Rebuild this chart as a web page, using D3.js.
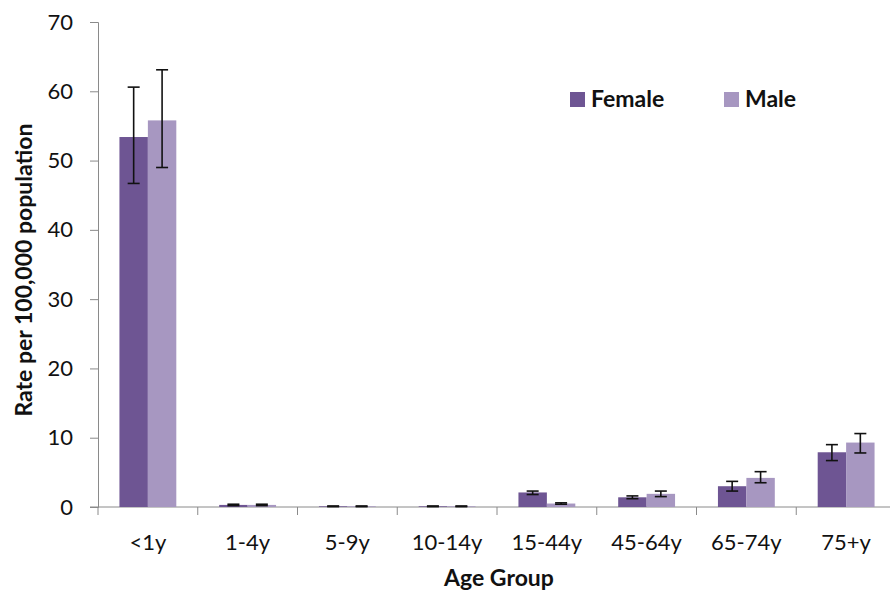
<!DOCTYPE html>
<html>
<head>
<meta charset="utf-8">
<script src="https://cdn.jsdelivr.net/npm/d3@7"></script>
<style>
  body { margin: 0; background: #fff; }
  text { font-family: Lato, "Open Sans", sans-serif; fill: #111; }
</style>
</head>
<body>
<div id="chart"></div>
<script>
var ageGroups = ["<1y", "1-4y", "5-9y", "10-14y", "15-44y", "45-64y", "65-74y", "75+y"];
var femaleRate = [53.4, 0.3, 0.1, 0.1, 2.1, 1.4, 3.0, 7.9];
var femaleLow  = [46.7, 0.2, 0.05, 0.05, 1.8, 1.2, 2.3, 6.7];
var femaleHigh = [60.6, 0.4, 0.15, 0.15, 2.3, 1.6, 3.7, 9.0];
var maleRate   = [55.8, 0.3, 0.1, 0.1, 0.5, 1.9, 4.2, 9.3];
var maleLow    = [49.0, 0.2, 0.05, 0.05, 0.4, 1.5, 3.5, 7.8];
var maleHigh   = [63.1, 0.4, 0.15, 0.15, 0.6, 2.3, 5.1, 10.6];
var yTicks = [0, 10, 20, 30, 40, 50, 60, 70];

const margin = ({ top: 22, right: -6, bottom: 89, left: 98 });
const width = 890, height = 596;
const innerW = width - margin.left - margin.right;
const innerH = height - margin.top - margin.bottom;

var svg = d3.select("#chart").append("svg")
    .attr("width", width)
    .attr("height", height);

var g = svg.append("g")
    .attr("transform", `translate(${margin.left}, ${margin.top})`);

var x = d3.scaleBand()
    .domain(ageGroups)
    .range([0, innerW])
    .paddingInner(0.43)
    .paddingOuter(0.215);

var sub = d3.scaleBand()
    .domain(["Female", "Male"])
    .range([0, x.bandwidth()]);

var y = d3.scaleLinear()
    .domain([0, 70])
    .range([innerH, 0]);

var colors = { Female: "#6e5593", Male: "#a797c1" };

var series = [
    { name: "Female", rate: femaleRate, low: femaleLow, high: femaleHigh },
    { name: "Male", rate: maleRate, low: maleLow, high: maleHigh }
];

// y axis
var yAxis = g.append("g")
    .call(d3.axisLeft(y).tickValues(yTicks).tickSize(8).tickPadding(17));
yAxis.select(".domain").attr("stroke", "#8a8a8a");
yAxis.selectAll(".tick line").attr("stroke", "#8a8a8a");
yAxis.selectAll("text").style("font-size", "22px").attr("fill", "#111");

// x axis: ticks at the category boundaries
var step = x.step();
var xAxis = g.append("g").attr("transform", `translate(0, ${innerH})`);
xAxis.append("line")
    .attr("x1", -8).attr("x2", innerW)
    .attr("stroke", "#8a8a8a");
xAxis.selectAll("line.tk")
    .data(d3.range(ageGroups.length + 1))
    .enter().append("line")
    .classed("tk", true)
    .attr("x1", d => d * step).attr("x2", d => d * step)
    .attr("y1", 0).attr("y2", 8)
    .attr("stroke", "#8a8a8a");
xAxis.selectAll("text")
    .data(ageGroups)
    .enter().append("text")
    .attr("x", d => x(d) + x.bandwidth() / 2)
    .attr("y", 43)
    .attr("text-anchor", "middle")
    .style("font-size", "22px")
    .text(d => d);

// bars
series.forEach(function(s) {
    var sg = g.append("g").classed(s.name.toLowerCase(), true);
    sg.selectAll("rect")
        .data(ageGroups)
        .enter().append("rect")
        .attr("x", d => x(d) + sub(s.name))
        .attr("y", (d, i) => y(s.rate[i]))
        .attr("width", sub.bandwidth())
        .attr("height", (d, i) => y(0) - y(s.rate[i]))
        .attr("fill", colors[s.name]);

    var eg = sg.selectAll("g.err")
        .data(ageGroups)
        .enter().append("g")
        .classed("err", true)
        .attr("transform", d => `translate(${x(d) + sub(s.name) + sub.bandwidth() / 2}, 0)`)
        .attr("stroke", "#111")
        .attr("stroke-width", 1.6);
    eg.append("line")
        .attr("y1", (d, i) => y(s.low[i])).attr("y2", (d, i) => y(s.high[i]));
    eg.append("line")
        .attr("x1", -6).attr("x2", 6)
        .attr("y1", (d, i) => y(s.high[i])).attr("y2", (d, i) => y(s.high[i]));
    eg.append("line")
        .attr("x1", -6).attr("x2", 6)
        .attr("y1", (d, i) => y(s.low[i])).attr("y2", (d, i) => y(s.low[i]));
});

// axis titles
svg.append("text")
    .attr("x", 499).attr("y", 586)
    .attr("text-anchor", "middle")
    .style("font-size", "23px").style("font-weight", "bold")
    .text("Age Group");

svg.append("text")
    .attr("transform", "translate(32, 270) rotate(-90)")
    .attr("text-anchor", "middle")
    .style("font-size", "23px").style("font-weight", "bold")
    .text("Rate per 100,000 population");

// legend
var legend = svg.append("g").attr("transform", "translate(570, 92)");
var li = legend.selectAll("g")
    .data(series)
    .enter().append("g")
    .attr("transform", (d, i) => `translate(${i * 154}, 0)`);
li.append("rect")
    .attr("width", 15).attr("height", 15)
    .attr("fill", d => colors[d.name]);
li.append("text")
    .attr("x", 21).attr("y", 15)
    .style("font-size", "23px").style("font-weight", "bold")
    .text(d => d.name);
</script>
</body>
</html>
